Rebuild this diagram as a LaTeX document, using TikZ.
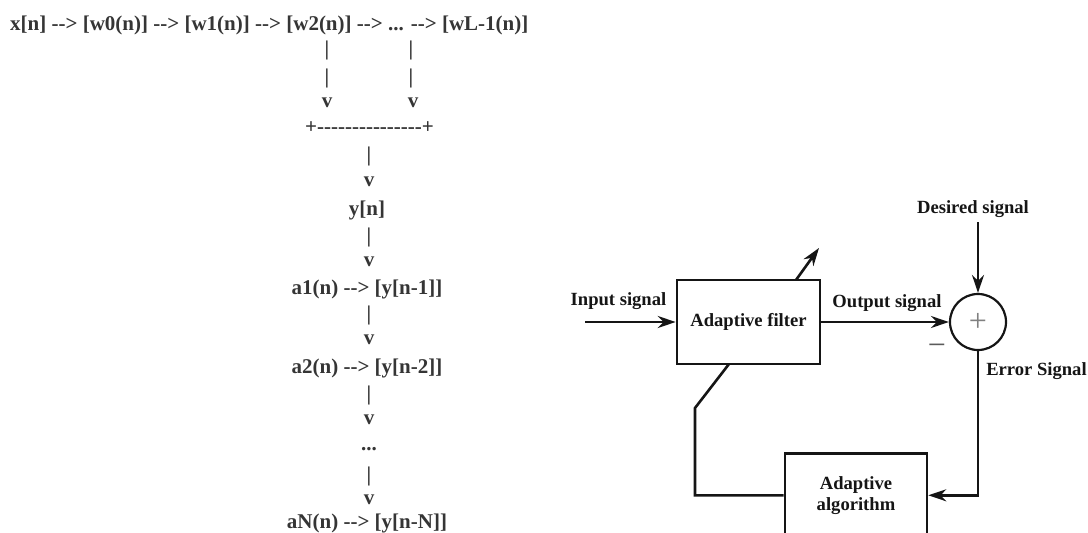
\documentclass[tikz,border=0pt]{standalone}
\usepackage{fontspec}
\newfontfamily\tnr{Liberation Serif}
\usetikzlibrary{arrows.meta}
\definecolor{asciigray}{HTML}{353535}
\definecolor{inkblack}{HTML}{151515}
\definecolor{plusgray}{HTML}{808080}
\begin{document}
\begin{tikzpicture}[x=1pt,y=-1pt,
  asc/.style={inner sep=0pt, text=asciigray, font=\tnr\bfseries\fontsize{21}{26}\selectfont},
  asctxt/.style={asc, anchor=base},
  lbl/.style={inner sep=0pt, text=inkblack, anchor=base, font=\tnr\bfseries\fontsize{18.6}{21}\selectfont},
  blk/.style={draw=inkblack, line width=2.6pt, inner sep=0pt, text=inkblack, font=\tnr\bfseries\fontsize{18.6}{21}\selectfont, align=center},
  wire/.style={draw=inkblack, line width=2.6pt},
  arr/.style={-{Stealth[length=18pt,width=12pt]}},
  sign/.style={inner sep=0pt, text=plusgray, font=\tnr\fontsize{32}{32}\selectfont}
]
\useasboundingbox (0,0) rectangle (1088,533);
\clip (0,0) rectangle (1088,533);

% ---------- left: ASCII-art chain ----------
\node[asc, anchor=base west] (l1) at (10,30) {x[n] --> [w0(n)] --> [w1(n)] --> [w2(n)] --> ... --> [wL-1(n)]};
\node[asc] (b1a) at (327,50) {|};
\node[asc] (b1b) at (327,78) {|};
\node[asc] (b2a) at (411,50) {|};
\node[asc] (b2b) at (411,78) {|};
\node[asc] (v1) at (327,103) {v};
\node[asc] (v2) at (413,103) {v};
\node[asc] (join) at (369.5,128) {+---------------+};
\node[asc] (b3) at (369,156) {|};
\node[asc] (v3) at (369,182) {v};
\node[asctxt] (yn) at (367,215) {y[n]};
\node[asc] (b4) at (369,237) {|};
\node[asc] (v4) at (369,262) {v};
\node[asctxt] (a1) at (367,294) {a1(n) --> [y[n-1]]};
\node[asc] (b5) at (369,315) {|};
\node[asc] (v5) at (369,340) {v};
\node[asctxt] (a2) at (367,373) {a2(n) --> [y[n-2]]};
\node[asc] (b6) at (369,395) {|};
\node[asc] (v6) at (369,420) {v};
\node[asc] (dots) at (369,449) {...};
\node[asc] (b7) at (369,476) {|};
\node[asc] (v7) at (369,500) {v};
\node[asctxt] (aN) at (367,528) {aN(n) --> [y[n-N]]};

% ---------- right: adaptive filter block diagram ----------
\node[blk, minimum width=143pt, minimum height=84pt] (filt) at (748.5,322) {Adaptive filter};
\node[blk, minimum width=142pt, minimum height=84pt, anchor=north] (alg) at (856,452) {Adaptive\\algorithm};
\node[draw=inkblack, line width=2.2pt, circle, minimum size=56pt, inner sep=0pt] (sum) at (978,322) {};
\node[sign] (plus) at (sum.center) {+};
\node[sign, text=inkblack!70] (minus) at (937,350) {−};

\node[lbl] (tin) at (618.5,305) {Input signal};
\node[lbl] (tout) at (887,307) {Output signal};
\node[lbl] (tdes) at (973,213) {Desired signal};
\node[lbl] (terr) at (1036.5,375) {Error Signal};

\coordinate (inp) at (585,322);
\coordinate (des) at (978,222);
\coordinate (adj0) at (796,280);
\coordinate (adj1) at (819,248);
\coordinate (fb1) at (695,408);
\coordinate (fb2) at (729,364);

\draw[wire, arr] (inp) -- (filt.west);
\draw[wire, arr] (filt.east) -- (sum.west);
\draw[wire, arr] (des) -- (sum.north);
\draw[wire, arr] (sum.south) |- (alg.east);
\draw[wire, line join=miter] (alg.west) -| (fb1) -- (fb2);
\draw[wire, arr] (adj0) -- (adj1);
\end{tikzpicture}
\end{document}
